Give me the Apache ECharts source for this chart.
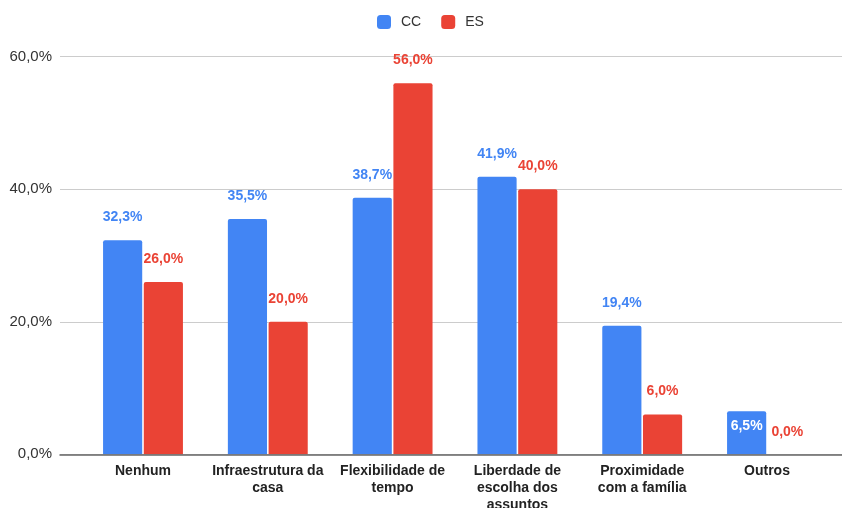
<!DOCTYPE html>
<html><head><meta charset="utf-8">
<script src="https://cdn.jsdelivr.net/npm/echarts@6/dist/echarts.min.js"></script>
<style>html,body{margin:0;padding:0;background:#fff}#c{width:842px;height:508px}</style>
</head><body><div id="c"></div>
<script>
const categories = ['Nenhum', 'Infraestrutura da\ncasa', 'Flexibilidade de\ntempo', 'Liberdade de\nescolha dos\nassuntos', 'Proximidade\ncom a família', 'Outros'];
const seriesNames = ['CC', 'ES'];
const ccValues = [32.3, 35.5, 38.7, 41.9, 19.4, 6.5];
const esValues = [26.0, 20.0, 56.0, 40.0, 6.0, 0.0];
const yTicks = [0, 20, 40, 60];

const BLUE = '#4285F4', RED = '#EA4335';
const fmt = v => v.toFixed(1).replace('.', ',') + '%';
const FONT = '"Liberation Sans", Arial, sans-serif';

function labelCfg(color) {
  return { show: true, position: 'top', distance: 16, color: color, fontFamily: FONT, fontWeight: 'bold', fontSize: 14,
           formatter: p => fmt(p.value) };
}
const ccData = ccValues.map((v, i) => (i === 5 ? { value: v, label: { position: 'insideTop', distance: 8, color: '#ffffff' } } : v));
const esData = esValues.map((v, i) => (v === 0 ? { value: v, label: { distance: 15 } } : v));

const chart = echarts.init(document.getElementById('c'), null, { renderer: 'canvas' });
chart.setOption({
  animation: false,
  backgroundColor: '#fff',
  legend: {
    top: 10, left: 372, icon: 'roundRect', itemWidth: 14, itemHeight: 14, itemGap: 20,
    textStyle: { fontFamily: FONT, fontSize: 14, color: '#333', padding: [0, 0, 0, 5] },
    data: seriesNames
  },
  grid: [
    { left: 60, right: 0, top: 56.7, bottom: 53.7, containLabel: false, outerBoundsMode: 'none' },
    { left: 80.6, right: 12.6, top: 56.7, bottom: 53.7, containLabel: false, outerBoundsMode: 'none' }
  ],
  xAxis: [
    { type: 'category', gridIndex: 0, data: [''], axisLine: { show: true, lineStyle: { color: '#666', width: 1.5 } },
      axisTick: { show: false }, axisLabel: { show: false }, z: 5 },
    { type: 'category', gridIndex: 1, data: categories, axisLine: { show: false }, axisTick: { show: false },
      axisLabel: { fontFamily: FONT, fontWeight: 'bold', fontSize: 14, color: '#222', lineHeight: 17, margin: 8, interval: 0 } }
  ],
  yAxis: [
    { type: 'value', gridIndex: 0, min: yTicks[0], max: yTicks[yTicks.length - 1], interval: yTicks[1] - yTicks[0],
      axisLine: { show: false }, axisTick: { show: false },
      axisLabel: { fontFamily: FONT, fontSize: 15, color: '#333', margin: 8, formatter: v => fmt(v) },
      splitLine: { lineStyle: { color: '#ccc', width: 1 } } },
    { type: 'value', gridIndex: 1, min: yTicks[0], max: yTicks[yTicks.length - 1], show: false, splitLine: { show: false } }
  ],
  series: [
    { name: seriesNames[0], type: 'bar', xAxisIndex: 1, yAxisIndex: 1, data: ccData, barCategoryGap: '36%', barGap: '4%',
      itemStyle: { color: BLUE, borderRadius: [2, 2, 0, 0] }, label: labelCfg(BLUE) },
    { name: seriesNames[1], type: 'bar', xAxisIndex: 1, yAxisIndex: 1, data: esData, barCategoryGap: '36%', barGap: '4%',
      itemStyle: { color: RED, borderRadius: [2, 2, 0, 0] }, label: labelCfg(RED) }
  ]
});
</script></body></html>
